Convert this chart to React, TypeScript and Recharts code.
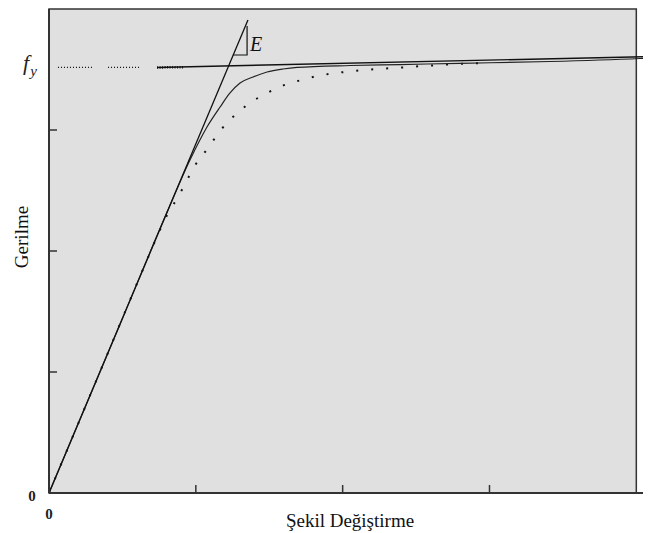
import { LineChart, Line, XAxis, YAxis, ReferenceArea, ReferenceDot, Label } from 'recharts';

// yield stress level (f_y) and axis ticks
const FY = 3.517;
const xTicks = [0, 1, 2, 3];
const yTicks = [0, 1, 2, 3, FY];

// elastic line (slope E)
const elasticLine = [
  { x: 0, y: 0 },
  { x: 1.355, y: 3.91 },
];

// small slope triangle next to the E label
const slopeTriangle = [
  { x: 1.253, y: 3.62 },
  { x: 1.349, y: 3.62 },
  { x: 1.349, y: 3.86 },
];

// strain hardening line starting at f_y
const hardeningLine = [
  { x: 0.736, y: FY },
  { x: 4.1, y: 3.607 },
];
const hardeningStub = [
  { x: 0.736, y: FY },
  { x: 0.913, y: 3.519 },
];

// dotted guide lines towards the f_y label
const guideA = [
  { x: 0.061, y: FY },
  { x: 0.293, y: FY },
];
const guideB = [
  { x: 0.402, y: FY },
  { x: 0.62, y: FY },
];

// solid (sharper) curve
const solidCurve = [
  { x: 0, y: 0 },
  { x: 0.5, y: 1.443 },
  { x: 0.8, y: 2.309 },
  { x: 0.96, y: 2.752 },
  { x: 1.076, y: 3.025 },
  { x: 1.165, y: 3.19 },
  { x: 1.233, y: 3.306 },
  { x: 1.301, y: 3.388 },
  { x: 1.39, y: 3.438 },
  { x: 1.485, y: 3.479 },
  { x: 1.594, y: 3.504 },
  { x: 1.689, y: 3.517 },
  { x: 2.05, y: 3.533 },
  { x: 2.391, y: 3.541 },
  { x: 2.8, y: 3.551 },
  { x: 3.413, y: 3.566 },
  { x: 4.026, y: 3.591 },
  { x: 4.1, y: 3.595 },
];

// dotted (rounder) curve
const dottedCurve = [
  { x: 0, y: 0 },
  { x: 0.4, y: 1.154 },
  { x: 0.65, y: 1.876 },
  { x: 0.756, y: 2.174 },
  { x: 0.811, y: 2.314 },
  { x: 0.879, y: 2.446 },
  { x: 0.94, y: 2.587 },
  { x: 1.001, y: 2.719 },
  { x: 1.083, y: 2.851 },
  { x: 1.165, y: 2.992 },
  { x: 1.26, y: 3.116 },
  { x: 1.369, y: 3.223 },
  { x: 1.485, y: 3.306 },
  { x: 1.587, y: 3.364 },
  { x: 1.689, y: 3.403 },
  { x: 1.798, y: 3.438 },
  { x: 1.907, y: 3.463 },
  { x: 2.01, y: 3.479 },
  { x: 2.125, y: 3.494 },
  { x: 2.234, y: 3.504 },
  { x: 2.343, y: 3.512 },
  { x: 2.446, y: 3.52 },
  { x: 2.548, y: 3.529 },
  { x: 2.657, y: 3.537 },
  { x: 2.766, y: 3.545 },
  { x: 2.868, y: 3.55 },
  { x: 3.004, y: 3.554 },
];

const SERIF = '"Liberation Serif", "Times New Roman", serif';
const INK = '#111';
const AXIS = '#333';

const YTick = (props: any) => {
  const { x, y, payload } = props;
  if (payload.value === 0) {
    return (
      <text x={x - 17} y={y + 8} textAnchor="middle" fontFamily={SERIF} fontSize={15} fontWeight={700} fill="#222">
        0
      </text>
    );
  }
  if (payload.value === FY) {
    return (
      <text x={x - 26} y={y + 3} fontFamily={SERIF} fontStyle="italic" fontSize={22} fill="#222">
        f
        <tspan fontSize={15} dy={6} dx={1}>y</tspan>
      </text>
    );
  }
  return <line x1={x} y1={y} x2={x + 8} y2={y} stroke={AXIS} strokeWidth={1.5} />;
};

const XTick = (props: any) => {
  const { x, y, payload } = props;
  if (payload.value === 0) {
    return (
      <text x={x} y={y + 26} textAnchor="middle" fontFamily={SERIF} fontSize={15} fontWeight={700} fill="#222">
        0
      </text>
    );
  }
  return <line x1={x} y1={y} x2={x} y2={y - 8} stroke={AXIS} strokeWidth={1.5} />;
};

const YTitle = (props: any) => {
  const { viewBox } = props;
  const cx = viewBox.x + 13;
  const cy = viewBox.y + viewBox.height / 2 - 14;
  return (
    <text x={cx} y={cy} transform={`rotate(-90, ${cx}, ${cy})`} textAnchor="middle" dominantBaseline="central" fontFamily={SERIF} fontSize={19} fill="#111">
      Gerilme
    </text>
  );
};

const lineProps = { dot: false, activeDot: false, isAnimationActive: false, dataKey: 'y' } as const;

export default function App() {
  return (
    <div style={{ width: 643, height: 525 }}>
      <LineChart width={643} height={525} margin={{ top: 1, right: 0, bottom: 0, left: 0 }}>
        <XAxis
          type="number"
          dataKey="x"
          domain={[0, 4.1]}
          ticks={xTicks}
          interval={0}
          tickSize={0}
          tickMargin={0}
          height={40}
          axisLine={{ stroke: AXIS, strokeWidth: 2 }}
          tick={XTick}
        >
          <Label value="Şekil Değiştirme" position="insideBottom" offset={6} fontFamily={SERIF} fontSize={19} fill="#111" />
        </XAxis>
        <YAxis
          type="number"
          dataKey="y"
          domain={[0, 4]}
          ticks={yTicks}
          interval={0}
          tickSize={0}
          tickMargin={0}
          width={41}
          axisLine={{ stroke: AXIS, strokeWidth: 2 }}
          tick={YTick}
        >
          <Label content={YTitle} />
        </YAxis>
        <ReferenceArea x1={0} x2={4} y1={0} y2={4} fill="#e0e0e0" fillOpacity={1} stroke={AXIS} strokeWidth={1.5} />
        <Line {...lineProps} data={guideA} stroke={INK} strokeWidth={1.2} strokeDasharray="1 2" />
        <Line {...lineProps} data={guideB} stroke={INK} strokeWidth={1.2} strokeDasharray="1 2" />
        <Line {...lineProps} data={hardeningStub} stroke={INK} strokeWidth={2.5} strokeDasharray="1 1.5" />
        <Line {...lineProps} data={hardeningLine} stroke={INK} strokeWidth={1.4} />
        <Line {...lineProps} data={dottedCurve} type="monotone" stroke={INK} strokeWidth={2} strokeDasharray="2 13" />
        <Line {...lineProps} data={solidCurve} type="monotone" stroke="#222" strokeWidth={1.2} />
        <Line {...lineProps} data={elasticLine} stroke={INK} strokeWidth={1.3} />
        <Line {...lineProps} data={slopeTriangle} stroke={INK} strokeWidth={1.2} />
        <ReferenceDot
          x={1.349}
          y={3.715}
          r={0}
          fill="none"
          stroke="none"
          label={{ value: 'E', position: 'right', offset: 3, fontFamily: SERIF, fontStyle: 'italic', fontSize: 20, fill: '#111' }}
        />
      </LineChart>
    </div>
  );
}
